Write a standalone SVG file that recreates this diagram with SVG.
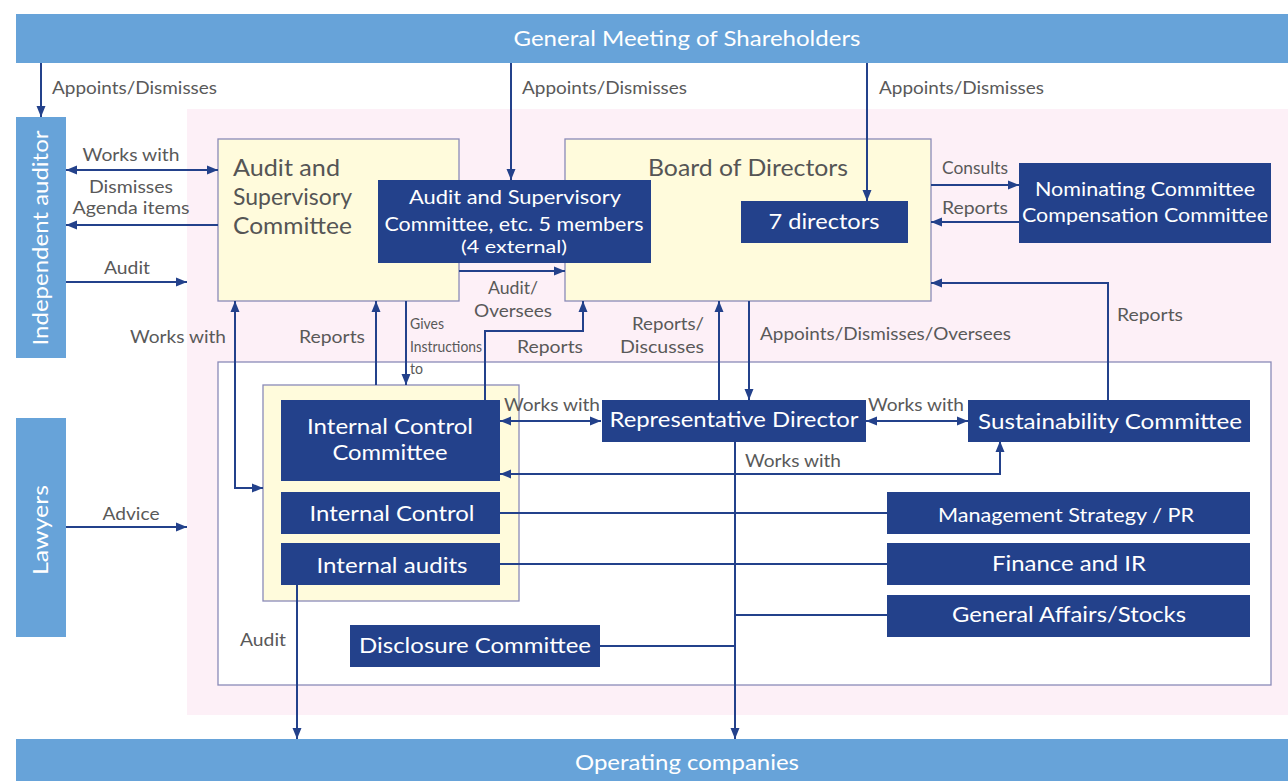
<svg xmlns="http://www.w3.org/2000/svg" width="1288" height="781" viewBox="0 0 1288 781">
<style>
.bar{fill:#67a3d9}
.bt{fill:#fff;font-family:Lato,"Noto Sans",sans-serif;font-size:21px;text-anchor:middle}
.yb{fill:#fffbdc;stroke:#8a8ab8;stroke-width:1.3}
.yt{fill:#555;font-family:Lato,"Noto Sans",sans-serif;font-size:23px}
.db{fill:#23418b}
.dt{fill:#fff;font-family:Lato,"Noto Sans",sans-serif;font-size:21px;text-anchor:middle}
.lb{fill:#595959;font-family:Lato,"Noto Sans",sans-serif;font-size:18px;text-anchor:middle}
.ls{fill:#595959;font-family:Lato,"Noto Sans",sans-serif;font-size:18px;text-anchor:start}
.sm{fill:#595959;font-family:Lato,"Noto Sans",sans-serif;font-size:15px;text-anchor:start}
.ln{fill:none;stroke:#23418b;stroke-width:2}
.ea{marker-end:url(#ah)}
.ba{marker-start:url(#ah);marker-end:url(#ah)}
</style>
<defs>
<marker id="ah" markerUnits="userSpaceOnUse" markerWidth="12" markerHeight="12" viewBox="0 0 12 12" refX="11" refY="6" orient="auto-start-reverse">
<path d="M0 1.5 L11 6 L0 10.5 Z" fill="#23418b"/>
</marker>
</defs>
<rect width="1288" height="781" fill="#fff"/>
<rect x="187" y="109" width="1101" height="606" fill="#fdf0f7"/>
<rect x="218" y="362" width="1053" height="323" fill="#fff" stroke="#8a8ab8" stroke-width="1.3"/>

<g id="audit-supervisory-committee">
<rect class="yb" x="218" y="139" width="241" height="162"/>
<text class="yt" x="233" y="176" textLength="107" lengthAdjust="spacingAndGlyphs">Audit and</text>
<text class="yt" x="233" y="205" textLength="119" lengthAdjust="spacingAndGlyphs">Supervisory</text>
<text class="yt" x="233" y="234" textLength="119" lengthAdjust="spacingAndGlyphs">Committee</text>
</g>
<g id="board-of-directors">
<rect class="yb" x="565" y="139" width="366" height="162"/>
<text class="yt" x="748" y="176" text-anchor="middle" style="text-anchor:middle" textLength="200" lengthAdjust="spacingAndGlyphs">Board of Directors</text>
</g>
<g id="internal-group">
<rect class="yb" x="263" y="385" width="256" height="216"/>
</g>

<g id="connectors">
<path class="ln ea" d="M41 63 V117"/>
<path class="ln ea" d="M511 63 V180"/>
<path class="ln ea" d="M867 63 V201"/>
<path class="ln ba" d="M66 170 H218"/>
<path class="ln ea" d="M218 225 H66"/>
<path class="ln ea" d="M66 282 H187"/>
<path class="ln ea" d="M66 527 H187"/>
<path class="ln ba" d="M263 488 H235 V301"/>
<path class="ln ea" d="M376 385 V301"/>
<path class="ln ea" d="M406 301 V385"/>
<path class="ln ea" d="M459 271 H565"/>
<path class="ln ea" d="M485 400 V331 H583 V301"/>
<path class="ln ea" d="M719 400 V301"/>
<path class="ln ea" d="M749 301 V400"/>
<path class="ln ea" d="M931 185 H1019"/>
<path class="ln ea" d="M1019 222 H931"/>
<path class="ln ea" d="M1108 400 V283 H931"/>
<path class="ln ba" d="M500 421 H601"/>
<path class="ln ba" d="M866 421 H968"/>
<path class="ln ba" d="M500 474 H1000 V441"/>
<path class="ln ea" d="M735 441 V739"/>
<path class="ln" d="M500 513 H887"/>
<path class="ln" d="M500 564 H887"/>
<path class="ln" d="M735 615 H887"/>
<path class="ln" d="M599 646 H735"/>
<path class="ln ea" d="M297 584 V739"/>
<text class="ls" x="52" y="94" textLength="165" lengthAdjust="spacingAndGlyphs">Appoints/Dismisses</text>
<text class="ls" x="522" y="94" textLength="165" lengthAdjust="spacingAndGlyphs">Appoints/Dismisses</text>
<text class="ls" x="879" y="94" textLength="165" lengthAdjust="spacingAndGlyphs">Appoints/Dismisses</text>
<text class="lb" x="131" y="161" textLength="97" lengthAdjust="spacingAndGlyphs">Works with</text>
<text class="lb" x="131" y="193" textLength="84" lengthAdjust="spacingAndGlyphs">Dismisses</text>
<text class="lb" x="131" y="214" textLength="117" lengthAdjust="spacingAndGlyphs">Agenda items</text>
<text class="lb" x="127" y="274" textLength="46" lengthAdjust="spacingAndGlyphs">Audit</text>
<text class="lb" x="131" y="520" textLength="57" lengthAdjust="spacingAndGlyphs">Advice</text>
<text class="lb" x="178" y="343" textLength="96" lengthAdjust="spacingAndGlyphs">Works with</text>
<text class="lb" x="332" y="343" textLength="66" lengthAdjust="spacingAndGlyphs">Reports</text>
<text class="sm" x="410" y="329" textLength="34" lengthAdjust="spacingAndGlyphs">Gives</text>
<text class="sm" x="410" y="352" textLength="72" lengthAdjust="spacingAndGlyphs">Instructions</text>
<text class="sm" x="410" y="374" textLength="13" lengthAdjust="spacingAndGlyphs">to</text>
<text class="lb" x="513" y="294" textLength="50" lengthAdjust="spacingAndGlyphs">Audit/</text>
<text class="lb" x="513" y="317" textLength="78" lengthAdjust="spacingAndGlyphs">Oversees</text>
<text class="lb" x="550" y="353" textLength="66" lengthAdjust="spacingAndGlyphs">Reports</text>
<text class="lb" x="668" y="330" textLength="72" lengthAdjust="spacingAndGlyphs">Reports/</text>
<text class="lb" x="662" y="353" textLength="84" lengthAdjust="spacingAndGlyphs">Discusses</text>
<text class="ls" x="760" y="340" textLength="251" lengthAdjust="spacingAndGlyphs">Appoints/Dismisses/Oversees</text>
<text class="lb" x="975" y="174" textLength="66" lengthAdjust="spacingAndGlyphs">Consults</text>
<text class="lb" x="975" y="214" textLength="66" lengthAdjust="spacingAndGlyphs">Reports</text>
<text class="lb" x="1150" y="321" textLength="66" lengthAdjust="spacingAndGlyphs">Reports</text>
<text class="lb" x="552" y="411" textLength="96" lengthAdjust="spacingAndGlyphs">Works with</text>
<text class="lb" x="916" y="411" textLength="96" lengthAdjust="spacingAndGlyphs">Works with</text>
<text class="lb" x="793" y="467" textLength="96" lengthAdjust="spacingAndGlyphs">Works with</text>
<text class="lb" x="263" y="646" textLength="46" lengthAdjust="spacingAndGlyphs">Audit</text>
</g>

<g id="general-meeting">
<rect class="bar" x="16" y="14" width="1272" height="49"/>
<text class="bt" x="687" y="46" textLength="347" lengthAdjust="spacingAndGlyphs">General Meeting of Shareholders</text>
</g>
<g id="operating-companies">
<rect class="bar" x="16" y="739" width="1272" height="42"/>
<text class="bt" x="687" y="770" textLength="224" lengthAdjust="spacingAndGlyphs">Operating companies</text>
</g>
<g id="independent-auditor">
<rect class="bar" x="16" y="117" width="50" height="241"/>
<text class="bt" transform="translate(48 238) rotate(-90)" x="0" y="0" textLength="215" lengthAdjust="spacingAndGlyphs">Independent auditor</text>
</g>
<g id="lawyers">
<rect class="bar" x="16" y="418" width="50" height="219"/>
<text class="bt" transform="translate(48 530) rotate(-90)" x="0" y="0" textLength="90" lengthAdjust="spacingAndGlyphs">Lawyers</text>
</g>
<g id="asc-members">
<rect class="db" x="378" y="180" width="273" height="83"/>
<text class="dt" x="515" y="204" style="font-size:20px" textLength="212" lengthAdjust="spacingAndGlyphs">Audit and Supervisory</text>
<text class="dt" x="514" y="231" style="font-size:20px" textLength="259" lengthAdjust="spacingAndGlyphs">Committee, etc. 5 members</text>
<text class="dt" x="514" y="253" style="font-size:18px" textLength="106" lengthAdjust="spacingAndGlyphs">(4 external)</text>
</g>
<g id="seven-directors">
<rect class="db" x="741" y="201" width="167" height="42"/>
<text class="dt" x="824" y="229" textLength="111" lengthAdjust="spacingAndGlyphs">7 directors</text>
</g>
<g id="nominating-compensation">
<rect class="db" x="1019" y="163" width="252" height="80"/>
<text class="dt" x="1145" y="196" style="font-size:20px" textLength="220" lengthAdjust="spacingAndGlyphs">Nominating Committee</text>
<text class="dt" x="1145" y="222" style="font-size:20px" textLength="246" lengthAdjust="spacingAndGlyphs">Compensation Committee</text>
</g>
<g id="internal-control-committee">
<rect class="db" x="281" y="400" width="219" height="81"/>
<text class="dt" x="390" y="434" textLength="166" lengthAdjust="spacingAndGlyphs">Internal Control</text>
<text class="dt" x="390" y="460" textLength="115" lengthAdjust="spacingAndGlyphs">Committee</text>
</g>
<g id="internal-control">
<rect class="db" x="281" y="492" width="219" height="42"/>
<text class="dt" x="392" y="521" textLength="165" lengthAdjust="spacingAndGlyphs">Internal Control</text>
</g>
<g id="internal-audits">
<rect class="db" x="281" y="543" width="219" height="42"/>
<text class="dt" x="392" y="573" textLength="151" lengthAdjust="spacingAndGlyphs">Internal audits</text>
</g>
<g id="representative-director">
<rect class="db" x="602" y="400" width="264" height="42"/>
<text class="dt" x="734" y="427" textLength="249" lengthAdjust="spacingAndGlyphs">Representative Director</text>
</g>
<g id="sustainability-committee">
<rect class="db" x="968" y="400" width="282" height="42"/>
<text class="dt" x="1110" y="429" textLength="264" lengthAdjust="spacingAndGlyphs">Sustainability Committee</text>
</g>
<g id="management-strategy">
<rect class="db" x="887" y="492" width="363" height="42"/>
<text class="dt" x="1066" y="522" style="font-size:20px" textLength="256" lengthAdjust="spacingAndGlyphs">Management Strategy / PR</text>
</g>
<g id="finance-ir">
<rect class="db" x="887" y="543" width="363" height="42"/>
<text class="dt" x="1069" y="571" textLength="154" lengthAdjust="spacingAndGlyphs">Finance and IR</text>
</g>
<g id="general-affairs">
<rect class="db" x="887" y="595" width="363" height="42"/>
<text class="dt" x="1069" y="622" textLength="234" lengthAdjust="spacingAndGlyphs">General Affairs/Stocks</text>
</g>
<g id="disclosure-committee">
<rect class="db" x="350" y="625" width="250" height="42"/>
<text class="dt" x="475" y="653" textLength="232" lengthAdjust="spacingAndGlyphs">Disclosure Committee</text>
</g>
</svg>
